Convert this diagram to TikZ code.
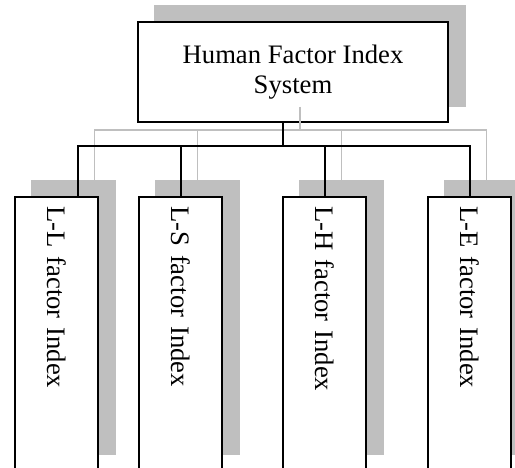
\documentclass[tikz,border=0pt]{standalone}
\usepackage{fontspec}
\setmainfont{Liberation Serif}
\usetikzlibrary{calc}
\usetikzlibrary{backgrounds}
\definecolor{shadowgray}{RGB}{191,191,191}
\tikzset{
    head/.style={draw, line width=1.2pt, fill=white, minimum width=186pt, minimum height=60pt,
        align=center, font=\fontsize{16}{18}\selectfont},
    leaf/.style={draw, line width=1.2pt, fill=white, rotate=-90, minimum height=49.8pt,
        text width=153pt, align=left, inner xsep=5.5pt, inner ysep=0pt, font=\fontsize{16}{18}\selectfont},
    link/.style={line width=1.2pt},
    glink/.style={line width=0.9pt, shadowgray},
    shade/.style={fill=shadowgray}
}

\begin{document}
\begin{tikzpicture}[x=0.6pt, y=-0.6pt]
        \useasboundingbox (0,0) rectangle (515,468);

        \node[head] (top) at (293,72) {Human Factor Index\\System};
        \node[leaf] (ll) at (56.5,333.7) {L-L factor Index};
        \node[leaf] (ls) at (180.5,333.7) {L-S factor Index};
        \node[leaf] (lh) at (324.5,333.7) {L-H factor Index};
        \node[leaf] (le) at (469.5,333.7) {L-E factor Index};

        % shadows behind the boxes
        \begin{scope}[on background layer]
            \foreach \n in {top,ll,ls,lh,le}
                \fill[shade] ($(\n.south east)+(17,-16)$) rectangle ($(\n.north west)+(17,-16)$);
        \end{scope}

        \coordinate (bus) at ($(top.south)+(-10,23)$);

        % grey copy of the tree
        \draw[glink] ($(top.south)+(7,-16)$) -- ($(bus)+(17,-16)$);
        \foreach \n/\dx in {ll/21,ls/0,lh/0,le/0}
            \draw[glink] ($(bus)+(17,-16)$) -| ($(\n.west)+(\dx+17,-16)$);

        \draw[link] ($(top.south)+(-10,0)$) -- (bus);
        \foreach \n/\dx in {ll/21,ls/0,lh/0,le/0}
            \draw[link] (bus) -| ($(\n.west)+(\dx,0)$);
    \end{tikzpicture}
\end{document}
